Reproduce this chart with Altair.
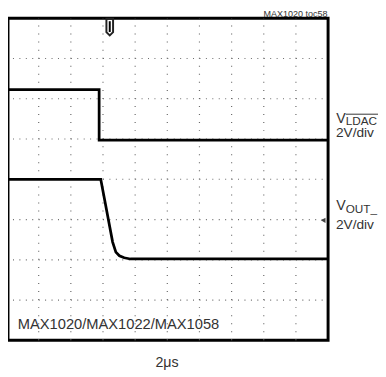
import altair as alt
import pandas as pd

# Traces in scope divisions (x: 0..10 div, y: 0..8 div from bottom)
ldac_t = [0.0, 2.88, 2.88, 10.0]
ldac_v = [6.23, 6.23, 4.97, 4.97]
vout_t = [0.0, 2.93, 3.30, 3.40, 3.51, 3.66, 3.85, 10.0]
vout_v = [4.00, 4.00, 2.44, 2.19, 2.10, 2.05, 2.02, 2.02]

x_grid = [1, 2, 3, 4, 5, 6, 7, 8, 9]
y_grid = [1, 2, 3, 4, 5, 6, 7]

trigger_t = [3.21]
ground_v = [2.98]

FONT = "Liberation Sans"
TXT = "#333333"
W, H = 327, 329

xs = alt.Scale(domain=[0.0457, 10], nice=False, zero=False)
ys = alt.Scale(domain=[0, 8], nice=False, zero=False)

ldac = pd.DataFrame({"t": ldac_t, "v": ldac_v, "o": range(len(ldac_t))})
vout = pd.DataFrame({"t": vout_t, "v": vout_v, "o": range(len(vout_t))})
hg = pd.DataFrame({"y": y_grid, "x0": [0] * len(y_grid), "x1": [10] * len(y_grid)})
vg = pd.DataFrame({"x": x_grid, "y0": [0] * len(x_grid), "y1": [8] * len(x_grid)})

hgrid = alt.Chart(hg).mark_rule(color="#6a6a6a", strokeWidth=1.2, strokeDash=[1, 5.57]).encode(
    x=alt.X("x0:Q", scale=xs, axis=None), x2="x1:Q", y=alt.Y("y:Q", scale=ys, axis=None))
vgrid = alt.Chart(vg).mark_rule(color="#6a6a6a", strokeWidth=1.2, strokeDash=[1, 7.22]).encode(
    x=alt.X("x:Q", scale=xs, axis=None), y=alt.Y("y0:Q", scale=ys, axis=None), y2="y1:Q")

l1 = alt.Chart(ldac).mark_line(color="black", strokeWidth=2.8).encode(
    x=alt.X("t:Q", scale=xs, axis=None), y=alt.Y("v:Q", scale=ys, axis=None), order="o:Q")
l2 = alt.Chart(vout).mark_line(color="black", strokeWidth=2.8).encode(
    x=alt.X("t:Q", scale=xs, axis=None), y=alt.Y("v:Q", scale=ys, axis=None), order="o:Q")

trig_df = pd.DataFrame({"t": trigger_t})
trig = alt.Chart(trig_df).mark_point(
    shape="M-0.4,-1 L0.4,-1 L0.4,0.6 L0,1 L-0.4,0.6 Z", size=289, filled=False,
    stroke="#222222", strokeWidth=2, opacity=1).encode(
    x=alt.X("t:Q", scale=xs, axis=None), y=alt.value(9))
trig_bar = alt.Chart(trig_df).mark_rule(color="black", strokeWidth=2).encode(
    x=alt.X("t:Q", scale=xs, axis=None), y=alt.value(3), y2=alt.value(14))

gnd = alt.Chart(pd.DataFrame({"v": ground_v})).mark_point(
    shape="triangle-left", size=30, filled=True, color="#444444", opacity=1).encode(
    x=alt.value(322), y=alt.Y("v:Q", scale=ys, axis=None))

def txt(s, x, y, size, align="left"):
    return alt.Chart(pd.DataFrame({"s": [s]})).mark_text(
        align=align, baseline="alphabetic", font=FONT, fontSize=size, color=TXT).encode(
        text="s:N", x=alt.value(x), y=alt.value(y))

labels = [
    txt("MAX1020 toc58", 326.5, -1, 9.2, "right"),
    txt("V", 335.3, 106.5, 14.5),
    txt("LDAC", 345, 109.5, 12),
    txt("2V/div", 335, 121.5, 14),
    txt("V", 335.3, 195.5, 14.5),
    txt("OUT_", 345, 198.5, 12),
    txt("2V/div", 335, 215, 14),
    txt("MAX1020/MAX1022/MAX1058", 10, 317.5, 15),
    txt("2μs", 162.5, 356, 14.5, "center"),
]

overline = alt.Chart(pd.DataFrame({"a": [0]})).mark_rule(color=TXT, strokeWidth=1).encode(
    x=alt.value(345), x2=alt.value(378), y=alt.value(98))

chart = alt.layer(hgrid, vgrid, l1, l2, trig, trig_bar, gnd, overline, *labels).properties(
    width=W, height=H,
    autosize=alt.AutoSizeParams(type="none"),
    padding={"left": 0, "top": 6.5, "right": 51, "bottom": 33.5},
    background="white",
).configure_view(stroke="black", strokeWidth=3)

chart.save("out.html", embed_options={"renderer": "svg", "actions": False})
